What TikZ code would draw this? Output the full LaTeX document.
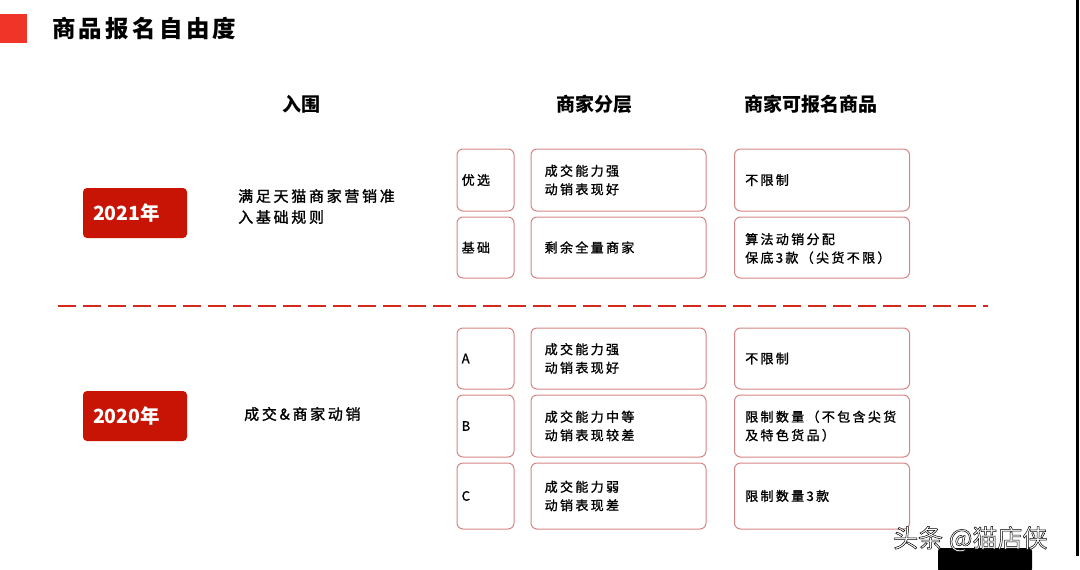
\documentclass[tikz,border=0pt]{standalone}
\usepackage{fontspec}
\setmainfont{Noto Sans CJK SC}
\newfontfamily\cjkls[LetterSpace=18,FakeBold=1.3]{Noto Sans CJK SC}
\newfontfamily\cjkt[LetterSpace=14]{Noto Sans CJK SC}
\definecolor{boxc}{RGB}{214,132,132}
\definecolor{yearred}{RGB}{200,20,5}
\definecolor{dashred}{RGB}{212,42,30}
\definecolor{sqred}{RGB}{240,52,40}
\newcommand{\outlinedtext}[1]{{\color{white}\special{pdf:literal direct 2 Tr 0.5 w 0 G}#1\special{pdf:literal direct 0 Tr}}}
\tikzset{
  cell/.style={draw=boxc, line width=1pt, rounded corners=6pt, inner sep=0pt},
  txt/.style={font=\cjkls\fontsize{13}{18.5}\selectfont, align=left, inner sep=0pt, anchor=west},
  bigtxt/.style={font=\cjkls\fontsize{15}{21}\selectfont, align=left, inner sep=0pt, anchor=west},
  head/.style={font=\bfseries\fontsize{19}{22}\selectfont, inner sep=0pt},
  yearbox/.style={fill=yearred, rounded corners=4pt, inner sep=0pt},
  yeartxt/.style={font=\bfseries\fontsize{19.5}{22}\selectfont, text=white, inner sep=0pt, anchor=west},
}
\begin{document}
\begin{tikzpicture}[x=1pt,y=-1pt]
\useasboundingbox (0,0) rectangle (1080,570);
% title
\fill[sqred] (0,14) rectangle (27,43);
\node[font=\cjkt\bfseries\fontsize{23.5}{26}\selectfont, inner sep=0pt, anchor=west] (title) at (52,29) {商品报名自由度};
% column headers
\node[head] (h1) at (301,104) {入围};
\node[head] (h2) at (594,104) {商家分层};
\node[head] (h3) at (811,104) {商家可报名商品};
% year boxes
\node[yearbox, minimum width=104pt, minimum height=50pt] (y21) at (135,213) {};
\node[yeartxt] (y21t) at ([xshift=10pt]y21.west) {2021年};
\node[yearbox, minimum width=104pt, minimum height=50pt] (y20) at (135,416) {};
\node[yeartxt] (y20t) at ([xshift=10pt]y20.west) {2020年};
% entry texts
\node[bigtxt] (e21) at (238,206.5) {满足天猫商家营销准\\入基础规则};
\node[bigtxt] (e20) at (244,414) {成交\&商家动销};
% dashed separator
\coordinate (dl) at (58,306);
\coordinate (dr) at (988,306);
\draw[dashred, line width=2.6pt, dash pattern=on 18pt off 7pt] (dl) -- (dr);
% 2021 rows
\node[cell, minimum width=57pt, minimum height=62pt] (s1) at (485.5,180) {};
\node[cell, minimum width=175pt, minimum height=62pt] (m1) at (618.5,180) {};
\node[cell, minimum width=175pt, minimum height=62pt] (r1) at (822,180) {};
\node[cell, minimum width=57pt, minimum height=61pt] (s2) at (485.5,247.5) {};
\node[cell, minimum width=175pt, minimum height=61pt] (m2) at (618.5,247.5) {};
\node[cell, minimum width=175pt, minimum height=61pt] (r2) at (822,247.5) {};
\node[txt] (s1t) at ([xshift=5pt]s1.west) {优选};
\node[txt] (m1t) at ([xshift=14pt]m1.west) {成交能力强\\动销表现好};
\node[txt] (r1t) at ([xshift=11pt]r1.west) {不限制};
\node[txt] (s2t) at ([xshift=5pt]s2.west) {基础};
\node[txt] (m2t) at ([xshift=14pt]m2.west) {剩余全量商家};
\node[txt] (r2t) at ([xshift=11pt,yshift=-1pt]r2.west) {算法动销分配\\保底3款（尖货不限）};
% 2020 rows
\node[cell, minimum width=57pt, minimum height=61pt] (sa) at (485.5,358.5) {};
\node[cell, minimum width=175pt, minimum height=61pt] (ma) at (618.5,358.5) {};
\node[cell, minimum width=175pt, minimum height=61pt] (ra) at (822,358.5) {};
\node[cell, minimum width=57pt, minimum height=62pt] (sb) at (485.5,426) {};
\node[cell, minimum width=175pt, minimum height=62pt] (mb) at (618.5,426) {};
\node[cell, minimum width=175pt, minimum height=62pt] (rb) at (822,426) {};
\node[cell, minimum width=57pt, minimum height=66pt] (sc) at (485.5,496) {};
\node[cell, minimum width=175pt, minimum height=66pt] (mc) at (618.5,496) {};
\node[cell, minimum width=175pt, minimum height=66pt] (rc) at (822,496) {};
\node[txt] (sat) at ([xshift=5pt]sa.west) {A};
\node[txt] (mat) at ([xshift=14pt]ma.west) {成交能力强\\动销表现好};
\node[txt] (rat) at ([xshift=11pt]ra.west) {不限制};
\node[txt] (sbt) at ([xshift=5pt]sb.west) {B};
\node[txt] (mbt) at ([xshift=14pt]mb.west) {成交能力中等\\动销表现较差};
\node[txt] (rbt) at ([xshift=11pt]rb.west) {限制数量（不包含尖货\\及特色货品）};
\node[txt] (sct) at ([xshift=5pt]sc.west) {C};
\node[txt] (mct) at ([xshift=14pt]mc.west) {成交能力弱\\动销表现差};
\node[txt] (rct) at ([xshift=11pt]rc.west) {限制数量3款};
% frame edge and watermark
\draw[black, line width=3pt] (1077,0) -- (1077,556);
\fill[black, rounded corners=3pt] (938,548) rectangle (1032,572);
\node[font=\fontsize{25}{28}\selectfont, inner sep=0pt, anchor=west] (wm) at (893,539) {\outlinedtext{头条 @猫店侠}};
\end{tikzpicture}
\end{document}
